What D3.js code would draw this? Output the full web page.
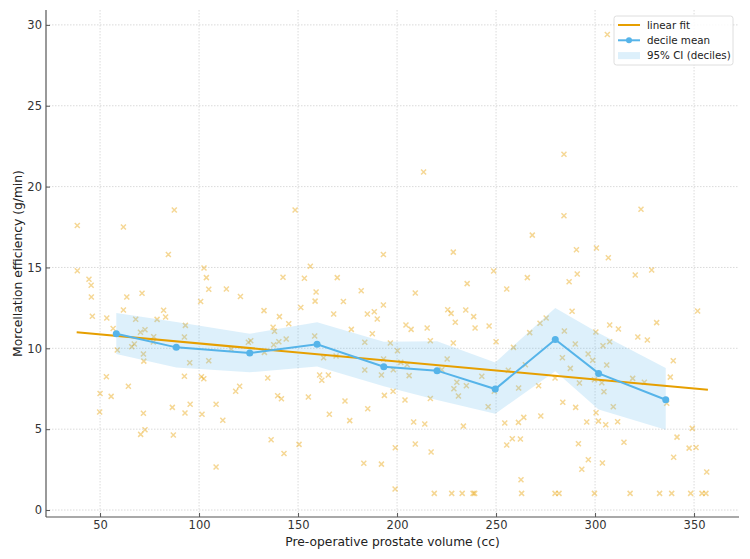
<!DOCTYPE html>
<html>
<head>
<meta charset="utf-8">
<script src="https://cdn.jsdelivr.net/npm/d3@7"></script>
<style>
  body { margin: 0; background: #fff; }
  text { font-family: "DejaVu Sans", sans-serif; }
  .grid line { stroke: #d0d0d0; stroke-width: 0.8; stroke-dasharray: 1.5,1.5; }
  .axis path, .axis line { stroke: #555; }
  .axis text { fill: #333; font-size: 11.5px; }
</style>
</head>
<body>
<div id="chart"></div>
<script>
// scatter: pre-op volume (cc) vs morcellation efficiency (g/min)
var volume = [
  38.5,61.8,87.5,84.5,148.5,193.1,213.4,284.3,284.3,268.3,228.4,306.2,323.2,290.6,300.7,306.7,
  38.5,44.4,45.5,45.6,46.1,53.4,63.5,71.2,61.8,56.6,68.0,70.4,72.7,58.7,66.0,67.3,77.1,76.9,71.9,72.1,
  82.1,83.1,78.8,93.1,92.6,100.8,102.5,103.7,104.9,95.3,104.9,92.6,101.2,102.4,53.2,50.0,55.6,64.3,
  49.8,71.9,86.5,92.9,95.5,101.5,108.6,70.5,72.7,87.0,108.6,
  112.0,113.8,120.9,142.4,153.2,156.2,169.8,159.1,158.6,151.4,132.8,140.6,145.3,137.4,138.1,144.0,
  140.3,124.9,126.1,137.7,133.0,116.2,158.4,162.9,169.2,134.7,160.9,165.3,162.0,118.5,120.5,139.7,
  141.6,155.2,168.0,172.9,181.9,176.9,185.0,188.5,190.0,193.1,187.5,183.7,196.6,183.7,192.1,193.2,
  198.1,193.6,198.0,173.7,185.2,165.8,176.1,136.4,150.5,142.9,183.2,192.1,199.1,199.0,
  248.8,235.4,265.8,255.4,209.2,286.9,225.6,227.3,234.7,238.7,229.4,204.5,207.1,215.2,239.4,246.5,
  216.8,228.4,250.0,200.2,201.9,205.1,206.1,225.3,222.6,230.2,228.7,235.0,231.0,242.8,249.1,246.0,
  204.0,216.8,208.4,214.0,233.5,209.2,217.2,218.8,227.6,232.9,238.4,239.2,258.8,264.8,256.2,261.4,
  267.0,272.2,275.3,271.5,279.8,283.5,284.5,283.7,287.5,288.4,272.6,264.0,261.3,254.4,258.2,262.3,
  255.4,262.6,262.9,279.8,281.8,
  291.0,320.3,328.6,351.8,331.1,307.4,311.8,300.4,321.6,326.4,307.4,290.0,304.0,296.5,298.8,305.9,
  339.5,338.0,292.1,299.7,303.4,304.5,319.0,324.9,336.2,290.2,309.2,300.5,295.8,301.7,305.4,311.4,
  349.1,341.4,347.5,351.0,339.7,356.4,314.6,291.6,296.6,303.7,293.3,299.7,317.7,332.6,338.7,348.3,
  354.0,356.0
]
var efficiency = [
  17.6,17.5,18.55,15.8,18.55,15.8,20.9,22.0,18.2,17.0,15.95,29.4,18.6,16.1,16.2,15.6,
  14.8,14.27,13.9,13.17,11.98,11.87,13.17,13.4,12.37,11.23,11.8,10.99,11.15,9.9,10.1,10.27,10.72,10.39,9.65,9.21,
  12.35,11.94,11.79,11.42,10.7,12.9,14.97,14.37,13.65,9.11,9.23,8.27,8.24,8.12,8.24,7.21,7.03,7.65,
  6.06,5.98,6.35,6.0,6.54,5.92,6.54,4.68,4.97,4.64,2.66,
  5.55,13.67,13.21,14.39,14.33,15.07,14.37,13.48,12.92,12.53,12.33,11.96,11.52,11.3,11.05,10.58,
  10.41,10.37,10.47,10.22,9.75,9.96,10.76,9.42,9.52,8.16,8.35,8.35,8.02,7.34,7.65,7.07,
  6.88,6.99,12.12,12.9,13.56,11.17,12.12,12.26,11.81,12.68,10.9,10.37,10.33,8.66,8.35,9.34,
  8.68,7.09,7.34,6.74,6.26,5.92,5.53,4.35,4.06,3.5,2.89,2.84,3.85,1.3,
  14.78,14.0,14.37,13.67,13.42,14.12,12.39,12.16,12.37,11.96,11.61,11.44,11.17,11.26,11.26,11.38,
  10.47,10.33,10.41,9.85,9.13,8.99,8.31,9.34,8.68,7.9,7.5,7.69,7.05,8.27,7.34,6.39,
  6.8,6.9,5.44,5.32,5.19,4.08,3.59,1.03,1.03,1.03,1.03,1.03,10.06,8.99,8.64,7.55,
  10.97,11.55,11.87,7.69,8.16,9.42,11.07,6.66,8.76,12.29,5.81,5.73,5.42,5.38,4.41,4.39,
  4.02,1.87,1.03,1.03,1.03,
  14.6,14.53,14.84,12.31,11.59,11.44,11.19,11.01,10.7,10.51,10.41,10.27,10.16,9.65,9.26,8.97,
  9.23,8.22,7.85,8.06,7.87,7.31,8.14,7.9,6.6,6.35,6.39,6.02,5.44,5.5,5.28,5.46,
  5.05,4.51,3.83,3.87,3.26,2.35,4.19,4.1,3.11,2.91,2.52,1.03,1.03,1.03,1.03,1.03,
  1.03,1.03
]

// linear fit endpoints
var fitX = [38.2, 357.0]
var fitY = [10.99, 7.44]

// decile summaries
var decileX    = [58.2, 88.5, 125.6, 159.6, 193.3, 220.2, 249.6, 279.9, 301.8, 335.7]
var decileMean = [10.9, 10.06, 9.71, 10.25, 8.86, 8.62, 7.48, 10.55, 8.45, 6.82]
var ciLow      = [9.65, 8.82, 8.52, 8.88, 7.65, 6.8, 5.96, 8.58, 6.21, 4.97]
var ciHigh     = [12.18, 11.63, 10.9, 11.61, 10.41, 10.43, 9.13, 12.49, 10.95, 8.78]

var xTicks = [50, 100, 150, 200, 250, 300, 350]
var yTicks = [0, 5, 10, 15, 20, 25, 30]

var orange = '#E69F00', blue = '#56B4E9'

var margin = { top: 10, right: 11, bottom: 42, left: 46 }
var width = 750 - margin.left - margin.right
var height = 559 - margin.top - margin.bottom

var svg = d3.select('#chart').append('svg')
    .attr('width', 750)
    .attr('height', 559)
  .append('g')
    .attr('transform', 'translate(' + margin.left + ',' + margin.top + ')')

var xScale = d3.scaleLinear().domain([22.7, 372.7]).range([0, width])
var yScale = d3.scaleLinear().domain([-0.43, 30.92]).range([height, 0])

// grid
svg.append('g').attr('class', 'grid')
  .selectAll('line').data(xTicks).enter().append('line')
  .attr('x1', d => xScale(d)).attr('x2', d => xScale(d))
  .attr('y1', 0).attr('y2', height)
svg.append('g').attr('class', 'grid')
  .selectAll('line').data(yTicks).enter().append('line')
  .attr('x1', 0).attr('x2', width)
  .attr('y1', d => yScale(d)).attr('y2', d => yScale(d))

// scatter x markers
var pts = volume.map((v, i) => ({ x: v, y: efficiency[i] }))
var s = 2.5
svg.append('g').selectAll('path').data(pts).enter().append('path')
  .attr('transform', d => 'translate(' + xScale(d.x) + ',' + yScale(d.y) + ')')
  .attr('d', 'M' + (-s) + ',' + (-s) + 'L' + s + ',' + s + 'M' + (-s) + ',' + s + 'L' + s + ',' + (-s))
  .style('stroke', orange)
  .style('stroke-opacity', 0.42)
  .style('stroke-width', 1.5)
  .style('fill', 'none')

// CI band
var deciles = decileX.map((x, i) => ({ x: x, m: decileMean[i], lo: ciLow[i], hi: ciHigh[i] }))
svg.append('path').datum(deciles)
  .attr('d', d3.area().x(d => xScale(d.x)).y0(d => yScale(d.lo)).y1(d => yScale(d.hi)))
  .style('fill', blue)
  .style('fill-opacity', 0.2)

// linear fit
svg.append('path').datum(fitX.map((x, i) => [x, fitY[i]]))
  .attr('d', d3.line().x(d => xScale(d[0])).y(d => yScale(d[1])))
  .style('fill', 'none')
  .style('stroke', orange)
  .style('stroke-width', 2)

// decile mean
svg.append('path').datum(deciles)
  .attr('d', d3.line().x(d => xScale(d.x)).y(d => yScale(d.m)))
  .style('fill', 'none')
  .style('stroke', blue)
  .style('stroke-width', 2)
svg.append('g').selectAll('circle').data(deciles).enter().append('circle')
  .attr('cx', d => xScale(d.x))
  .attr('cy', d => yScale(d.m))
  .attr('r', 3.5)
  .style('fill', blue)

// axes (ticks point inward)
svg.append('g')
  .attr('class', 'axis')
  .attr('transform', 'translate(0,' + height + ')')
  .call(d3.axisBottom(xScale).tickValues(xTicks).tickSize(-4).tickPadding(4))
  .call(g => g.select('.domain').attr('d', 'M0,0H' + width).style('stroke-width', 1.2))
svg.append('g')
  .attr('class', 'axis')
  .call(d3.axisLeft(yScale).tickValues(yTicks).tickSize(-4).tickPadding(4))
  .call(g => g.select('.domain').attr('d', 'M0,0V' + height).style('stroke-width', 1.2))

// axis labels
svg.append('text')
  .attr('x', width / 2)
  .attr('y', height + 28.5)
  .attr('text-anchor', 'middle')
  .style('font-size', '12.3px')
  .style('fill', '#222')
  .text('Pre-operative prostate volume (cc)')
svg.append('text')
  .attr('transform', 'translate(' + (-24.5) + ',' + (height / 2) + ') rotate(-90)')
  .attr('text-anchor', 'middle')
  .style('font-size', '12.3px')
  .style('fill', '#222')
  .text('Morcellation efficiency (g/min)')

// legend
var lg = svg.append('g').attr('transform', 'translate(' + (614 - margin.left) + ',' + (16 - margin.top) + ')')
lg.append('rect')
  .attr('width', 119).attr('height', 49).attr('rx', 2.5)
  .style('fill', '#fff').style('fill-opacity', 0.85)
  .style('stroke', '#d5d5d5').style('stroke-width', 0.8)
var items = ['linear fit', 'decile mean', '95% CI (deciles)']
items.forEach(function (t, i) {
  var yy = 9 + i * 15.3
  if (i == 0) {
    lg.append('line').attr('x1', 4).attr('x2', 26).attr('y1', yy).attr('y2', yy)
      .style('stroke', orange).style('stroke-width', 2)
  } else if (i == 1) {
    lg.append('line').attr('x1', 4).attr('x2', 26).attr('y1', yy).attr('y2', yy)
      .style('stroke', blue).style('stroke-width', 2)
    lg.append('circle').attr('cx', 15).attr('cy', yy).attr('r', 3).style('fill', blue)
  } else {
    lg.append('rect').attr('x', 4).attr('y', yy - 3.5).attr('width', 22).attr('height', 7)
      .style('fill', blue).style('fill-opacity', 0.2)
  }
  lg.append('text').attr('x', 33).attr('y', yy).attr('dy', '0.35em')
    .style('font-size', '10.3px').style('fill', '#222').text(t)
})
</script>
</body>
</html>
